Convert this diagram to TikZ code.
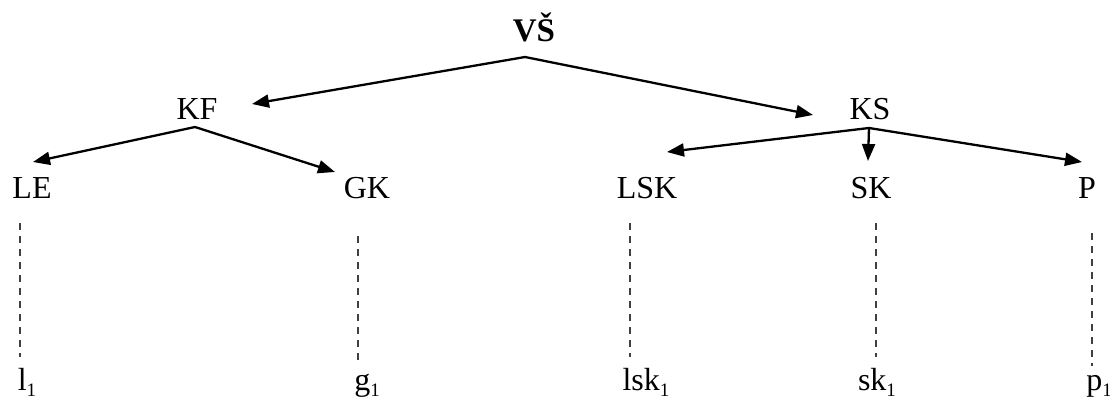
\documentclass[tikz,border=0pt]{standalone}
\usepackage{fontspec}
\setmainfont{Liberation Serif}
\usetikzlibrary{arrows.meta}
\newcommand{\sub}[1]{\raisebox{-6pt}{\fontsize{19}{20}\selectfont #1}}
\tikzset{
  lbl/.style={anchor=base, inner sep=0pt, font=\fontsize{32}{36}\selectfont},
  rootlbl/.style={anchor=base, inner sep=0pt, font=\fontsize{33}{38}\selectfont\bfseries},
  arr/.style={line width=2.3pt, -{Triangle[length=17pt,width=13pt]}},
  link/.style={line width=2.6pt, draw=black!75, dash pattern=on 7pt off 6pt},
}
\begin{document}
\begin{tikzpicture}[x=1pt,y=-1pt]
\useasboundingbox (0,0) rectangle (1110,401);

% tree labels
\node[rootlbl] (VS) at (534,42) {VŠ};
\node[lbl] (KF) at (197,120) {KF};
\node[lbl] (KS) at (870,120) {KS};
\node[lbl] (LE) at (32,198) {LE};
\node[lbl] (GK) at (367,198) {GK};
\node[lbl] (LSK) at (647,198) {LSK};
\node[lbl] (SK) at (871,198) {SK};
\node[lbl] (P) at (1087,198) {P};

% leaf labels
\node[lbl] (l1) at (27,390) {l\sub{1}};
\node[lbl] (g1) at (367,390) {g\sub{1}};
\node[lbl] (lsk1) at (646,390) {lsk\sub{1}};
\node[lbl] (sk1) at (877,390) {sk\sub{1}};
\node[lbl] (p1) at (1099,390) {p\sub{1}};

% branch points and arrow ends
\coordinate (VS-out) at (525,57);
\coordinate (KF-in) at (252,104);
\coordinate (KS-in) at (813,115);
\coordinate (KF-out) at (195,127);
\coordinate (LE-in) at (33,162);
\coordinate (GK-in) at (335,172);
\coordinate (KS-out) at (869,128);
\coordinate (LSK-in) at (667,152);
\coordinate (SK-in) at (868,161);
\coordinate (P-in) at (1082,162);

\draw[arr] (VS-out) -- (KF-in);
\draw[arr] (VS-out) -- (KS-in);
\draw[arr] (KF-out) -- (LE-in);
\draw[arr] (KF-out) -- (GK-in);
\draw[arr] (KS-out) -- (LSK-in);
\draw[arr] (KS-out) -- (SK-in);
\draw[arr] (KS-out) -- (P-in);

% dashed links to the leaves
\draw[link] (20,223) -- (20,357);
\draw[link] (358,236) -- (358,364);
\draw[link] (630,223) -- (630,357);
\draw[link] (876,223) -- (876,357);
\draw[link] (1092,233) -- (1092,366);
\end{tikzpicture}
\end{document}
